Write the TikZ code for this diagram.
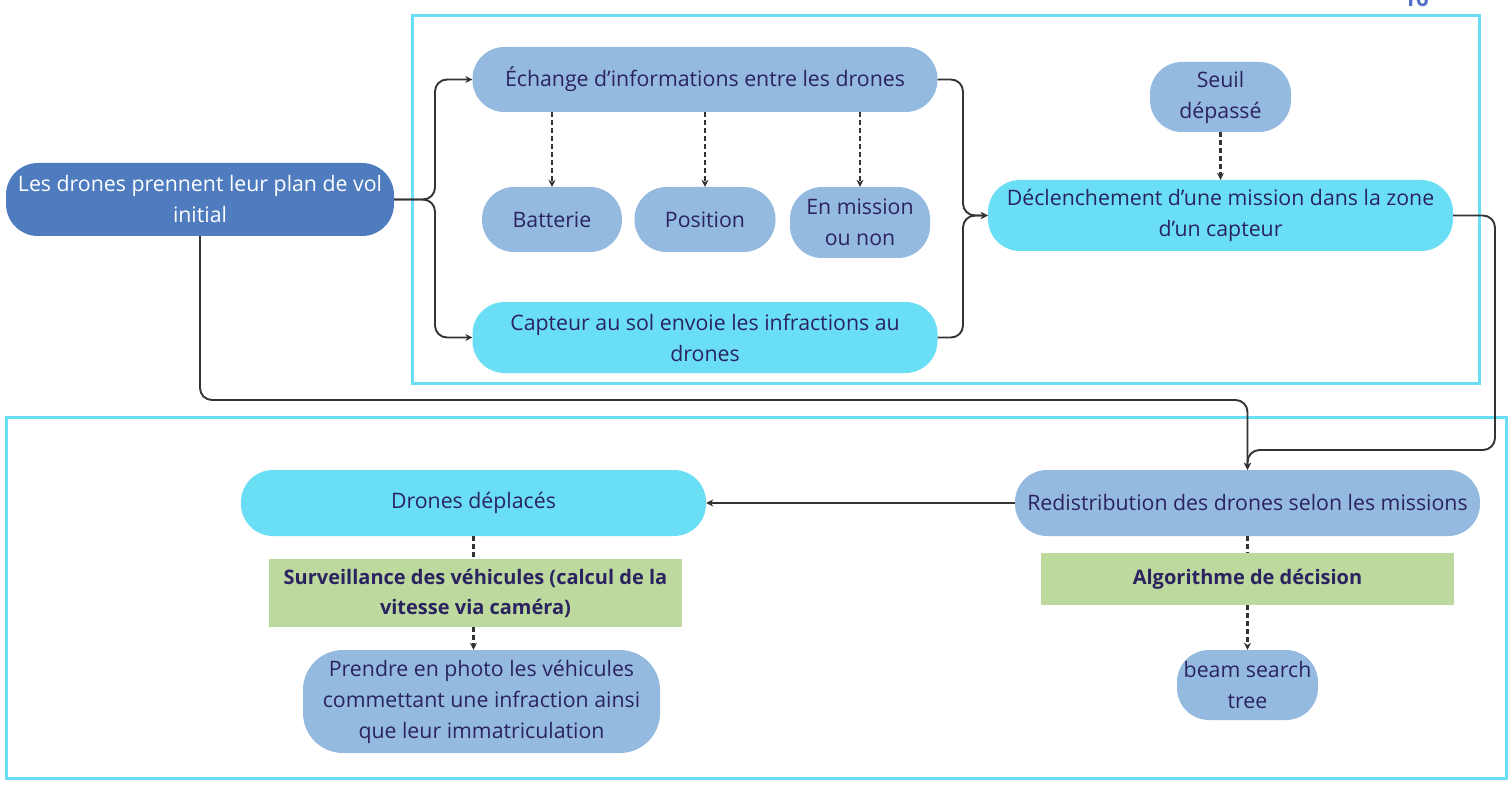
\documentclass[tikz,border=0pt]{standalone}
\usepackage{fontspec}
\setmainfont{Open Sans}
\usetikzlibrary{arrows.meta}
\definecolor{navy}{RGB}{42,35,96}
\definecolor{dblue}{RGB}{79,124,191}
\definecolor{lblue}{RGB}{149,186,224}
\definecolor{cyanb}{RGB}{106,222,244}
\definecolor{greenb}{RGB}{189,217,158}
\definecolor{linec}{RGB}{51,51,51}
\definecolor{pnum}{RGB}{84,112,198}
\begin{document}
\begin{tikzpicture}[x=1pt,y=-1pt,
  every node/.style={font=\fontsize{21.3}{31}\selectfont, text=navy, align=center, inner sep=0pt},
  pill/.style={rectangle, rounded corners=32pt},
  gbox/.style={rectangle, fill=greenb, font=\fontsize{20}{30}\selectfont\bfseries},
  frame/.style={draw=cyanb, line width=3pt},
  conn/.style={draw=linec, line width=1.9pt, rounded corners=12pt},
  arr/.style={conn, -{Stealth[length=7pt,width=7pt]}},
  dconn/.style={draw=linec, line width=2.2pt, dash pattern=on 5pt off 3pt},
  darr/.style={dconn, -{Stealth[length=7pt,width=7pt]}}
]
\useasboundingbox (0,0) rectangle (1512,786);
% frames
\draw[frame] (412,16) rectangle (1479,383);
\draw[frame] (6,417) rectangle (1506,778);
% page number
\node[font=\fontsize{22}{26}\selectfont\bfseries, text=pnum, anchor=base] (pg) at (1416,7) {16};
% nodes
\node[pill, fill=dblue, text=white, minimum width=388pt, minimum height=73pt] (init) at (200,199.5) {Les drones prennent leur plan de vol\\initial};
\node[pill, fill=lblue, minimum width=465pt, minimum height=65pt] (ech) at (705,79.5) {Échange d’informations entre les drones};
\node[pill, fill=lblue, minimum width=140pt, minimum height=65pt] (bat) at (552,219.5) {Batterie};
\node[pill, fill=lblue, minimum width=141pt, minimum height=65pt] (pos) at (705,219.5) {Position};
\node[pill, fill=lblue, minimum width=140pt, minimum height=71pt] (mis) at (860,222.5) {En mission\\ou non};
\node[pill, fill=cyanb, minimum width=465pt, minimum height=71pt] (cap) at (705,337.5) {Capteur au sol envoie les infractions au\\drones};
\node[pill, fill=lblue, minimum width=141pt, minimum height=70pt] (seuil) at (1220.5,97) {Seuil\\dépassé};
\node[pill, fill=cyanb, minimum width=465pt, minimum height=71pt] (dec) at (1220.5,215.5) {Déclenchement d’une mission dans la zone\\d’un capteur};
\node[pill, fill=lblue, minimum width=465pt, minimum height=66pt] (red) at (1247.5,503) {Redistribution des drones selon les missions};
\node[gbox, minimum width=413pt, minimum height=52pt] (algo) at (1247.5,579) {Algorithme de décision};
\node[pill, fill=lblue, minimum width=141pt, minimum height=70pt] (beam) at (1247.5,685) {beam search\\tree};
\node[pill, fill=cyanb, minimum width=465pt, minimum height=66pt] (dep) at (473.5,503) {Drones déplacés};
\node[gbox, minimum width=413pt, minimum height=68pt] (surv) at (475.5,593) {Surveillance des véhicules (calcul de la\\vitesse via caméra)};
\node[pill, rounded corners=40pt, fill=lblue, minimum width=357pt, minimum height=103pt] (photo) at (481.5,701.5) {Prendre en photo les véhicules\\commettant une infraction ainsi\\que leur immatriculation};
% junction coordinates
\coordinate (j1) at (435,199.5);
\coordinate (j2) at (963,215.5);
\coordinate (c3) at (1495,450);
\coordinate (c4) at (1247.5,400);
% connectors
\draw[arr] (init.east) -- (j1) |- (ech.west);
\draw[arr] (init.east) -- (j1) |- (cap.west);
\draw[arr] (ech.east) -| (j2) -- (dec.west);
\draw[arr] (cap.east) -| (j2) -- (dec.west);
\draw[darr] (bat.north |- ech.south) -- (bat.north);
\draw[darr] (pos.north |- ech.south) -- (pos.north);
\draw[darr] (mis.north |- ech.south) -- (mis.north);
\draw[darr] (seuil.south) -- (dec.north);
\draw[arr] (dec.east) -| (c3) -| (red.north);
\draw[arr] (init.south) |- (c4) -- (red.north);
\draw[arr] (red.west) -- (dep.east);
\draw[dconn] (red.south) -- (algo.north);
\draw[darr] (algo.south) -- (beam.north);
\draw[dconn] (dep.south) -- (dep.south |- surv.north);
\draw[darr] (dep.south |- surv.south) -- (dep.south |- photo.north);
\end{tikzpicture}
\end{document}
